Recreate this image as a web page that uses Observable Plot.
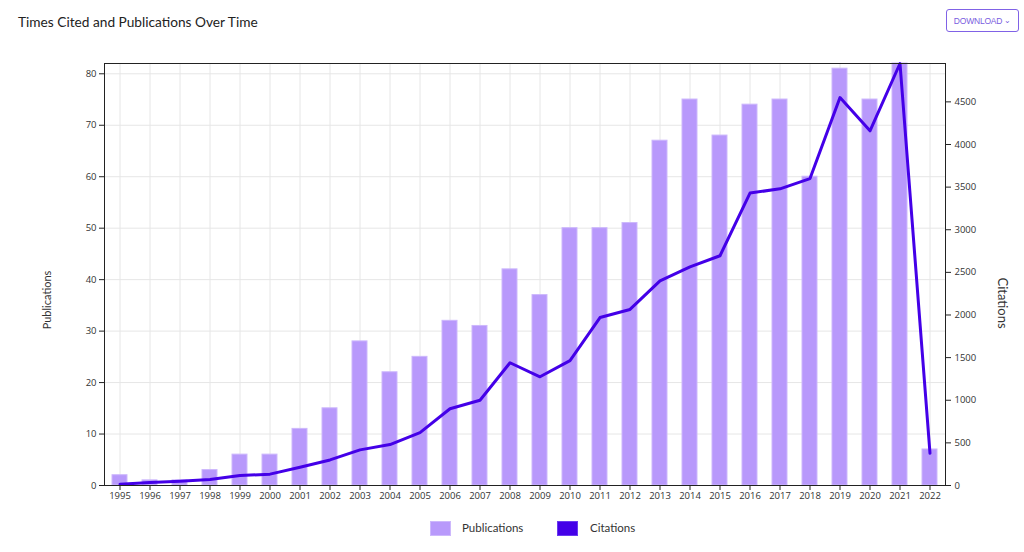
<!DOCTYPE html>
<html><head><meta charset="utf-8">
<script src="https://cdn.jsdelivr.net/npm/d3@7"></script>
<script src="https://cdn.jsdelivr.net/npm/@observablehq/plot@0.6"></script>
<style>
body{margin:0;background:#fff;}
#wrap{position:relative;width:1024px;height:552px;overflow:hidden;font-family:Lato,"Open Sans",sans-serif;}
#title{position:absolute;z-index:2;left:18px;top:13px;font-size:13.7px;color:#222;white-space:nowrap;}
#btn{position:absolute;z-index:2;left:946px;top:9px;width:73px;height:23px;box-sizing:border-box;border:1.5px solid #8062e6;border-radius:3px;color:#7a5ce0;font-size:8.5px;font-family:"Liberation Sans",Arial,sans-serif;display:flex;align-items:center;justify-content:center;letter-spacing:-0.2px;background:#fff;}
#chart{position:absolute;z-index:1;left:0;top:0;}
#legend{position:absolute;z-index:2;top:519px;left:0;width:1024px;height:20px;font-size:11.5px;color:#333;}
.sw{position:absolute;top:2px;width:21px;height:15px;box-sizing:border-box;}
.lt{position:absolute;top:2px;}
</style></head>
<body>
<div id="wrap">
  <div id="chart"></div>
  <div id="title">Times Cited and Publications Over Time</div>
  <div id="btn">DOWNLOAD&nbsp;<span style="font-size:8px">&#8964;</span></div>
  <div id="legend">
    <div class="sw" style="left:430px;background:#b899fb;border:1px solid #cdb8fc"></div><div class="lt" style="left:462px">Publications</div>
    <div class="sw" style="left:557px;background:#4400e8;border:1px solid #6a3af0"></div><div class="lt" style="left:590px">Citations</div>
  </div>
</div>
<script>
const years = ["1995","1996","1997","1998","1999","2000","2001","2002","2003","2004","2005","2006","2007","2008","2009","2010","2011","2012","2013","2014","2015","2016","2017","2018","2019","2020","2021","2022"];
const publications = [2,1,1,3,6,6,11,15,28,22,25,32,31,42,37,50,50,51,67,75,68,74,75,60,81,75,82,7];
const citations = [15,35,50,70,117,133,215,300,418,480,620,900,1000,1440,1275,1465,1970,2065,2400,2565,2695,3430,3480,3600,4550,4160,4950,378];
const pubTicks = [0,10,20,30,40,50,60,70,80];
const citTicks = [0,500,1000,1500,2000,2500,3000,3500,4000,4500];

const pubMax = d3.max(publications);
const citMax = d3.max(citations);
const k = pubMax / citMax;
const data = years.map((y, i) => ({year: y, pubs: publications[i], cits: citations[i] * k}));

const chart = Plot.plot({
  width: 1024, height: 510,
  marginLeft: 104, marginRight: 79, marginTop: 63, marginBottom: 25,
  style: {fontFamily: "'Open Sans', sans-serif", fontSize: "9.5px", color: "#333", background: "white", overflow: "visible"},
  x: {type: "band", domain: years, paddingInner: 0.5, paddingOuter: 0.25, label: null},
  y: {domain: [0, pubMax], label: null},
  marks: [
    Plot.gridY({ticks: pubTicks, stroke: "#e6e6e6", strokeOpacity: 1}),
    Plot.gridX({stroke: "#e6e6e6", strokeOpacity: 1}),
    Plot.barY(data, {x: "year", y: "pubs", fill: "#b899fb", stroke: "#cdb8fc", strokeWidth: 1}),
    Plot.line(data, {x: "year", y: "cits", stroke: "#4400e8", strokeWidth: 3}),
    Plot.axisY({ticks: pubTicks, tickSize: 5, tickPadding: 3, label: null, stroke: "#222"}),
    Plot.axisY({anchor: "right", ticks: citTicks.map(v => v * k), tickFormat: d => String(Math.round(d / k / 10) * 10), tickSize: 5, tickPadding: 4, label: null, stroke: "#222"}),
    Plot.axisX({tickSize: 5, tickPadding: 2, label: null, stroke: "#222"}),
    Plot.frame({stroke: "#222"})
  ]
});
document.getElementById("chart").appendChild(chart);
const svg = d3.select(chart);
svg.append("text").attr("transform", "translate(51,300) rotate(-90)").attr("text-anchor", "middle")
  .attr("font-family", "Lato, sans-serif").attr("font-size", "11px").attr("fill", "#333").text("Publications");
svg.append("text").attr("transform", "translate(998,303) rotate(90)").attr("text-anchor", "middle")
  .attr("font-family", "Lato, sans-serif").attr("font-size", "13px").attr("fill", "#333").text("Citations");
</script>
</body></html>
